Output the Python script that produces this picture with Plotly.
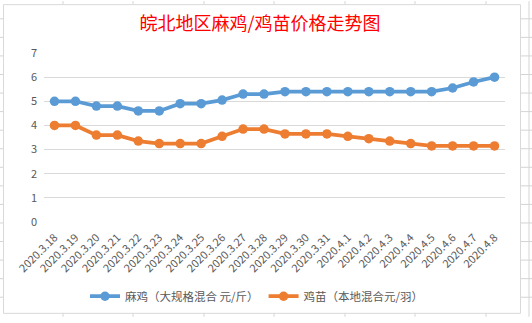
import plotly.graph_objects as go

dates = ["2020.3.18", "2020.3.19", "2020.3.20", "2020.3.21", "2020.3.22", "2020.3.23",
         "2020.3.24", "2020.3.25", "2020.3.26", "2020.3.27", "2020.3.28", "2020.3.29",
         "2020.3.30", "2020.3.31", "2020.4.1", "2020.4.2", "2020.4.3", "2020.4.4",
         "2020.4.5", "2020.4.6", "2020.4.7", "2020.4.8"]
mahji = [5.0, 5.0, 4.8, 4.8, 4.6, 4.6, 4.9, 4.9, 5.05, 5.3, 5.3, 5.4,
         5.4, 5.4, 5.4, 5.4, 5.4, 5.4, 5.4, 5.55, 5.8, 6.0]
jimiao = [4.0, 4.0, 3.6, 3.6, 3.35, 3.25, 3.25, 3.25, 3.55, 3.85, 3.85, 3.65,
          3.65, 3.65, 3.55, 3.45, 3.35, 3.25, 3.15, 3.15, 3.15, 3.15]
name_a = "麻鸡（大规格混合 元/斤）"
name_b = "鸡苗（本地混合元/羽）"
title = "皖北地区麻鸡/鸡苗价格走势图"

W, H = 532, 323
L, R, T, B = 44, 27, 53, 97
pw, ph = W - L - R, H - T - B

def px_x(x):
    return (x - L) / pw

def px_y(y):
    return (H - B - y) / ph

font = "Noto Sans CJK SC, Microsoft YaHei, sans-serif"
grey = "#595959"

fig = go.Figure()
fig.add_trace(go.Scatter(x=dates, y=mahji, name=name_a, mode="lines+markers",
                         line=dict(color="#5B9BD5", width=3.75),
                         marker=dict(size=9.5, color="#5B9BD5")))
fig.add_trace(go.Scatter(x=dates, y=jimiao, name=name_b, mode="lines+markers",
                         line=dict(color="#ED7D31", width=3.75),
                         marker=dict(size=9.5, color="#ED7D31")))

shapes = []
# Excel sheet grid lines outside the chart
for yy in [18, 37, 56, 75, 94, 113, 132, 151, 170, 189, 208, 227, 246, 265, 284, 303]:
    shapes.append(dict(type="line", xref="paper", yref="paper",
                       x0=px_x(0), x1=px_x(3), y0=px_y(yy), y1=px_y(yy),
                       line=dict(color="#d4d4d4", width=1), layer="below"))
    shapes.append(dict(type="line", xref="paper", yref="paper",
                       x0=px_x(520), x1=px_x(532), y0=px_y(yy), y1=px_y(yy),
                       line=dict(color="#d4d4d4", width=1), layer="below"))
for xx in [63, 133, 204, 274, 345, 415, 486]:
    shapes.append(dict(type="line", xref="paper", yref="paper",
                       x0=px_x(xx), x1=px_x(xx), y0=px_y(0), y1=px_y(3),
                       line=dict(color="#d4d4d4", width=1), layer="below"))
    shapes.append(dict(type="line", xref="paper", yref="paper",
                       x0=px_x(xx), x1=px_x(xx), y0=px_y(319), y1=px_y(323),
                       line=dict(color="#d4d4d4", width=1), layer="below"))
shapes.append(dict(type="line", xref="paper", yref="paper",
                   x0=px_x(529), x1=px_x(529), y0=px_y(0), y1=px_y(323),
                   line=dict(color="#d4d4d4", width=1), layer="below"))
# chart border
shapes.append(dict(type="rect", xref="paper", yref="paper",
                   x0=px_x(3.5), x1=px_x(520.5), y0=px_y(3.5), y1=px_y(319.5),
                   line=dict(color="#d9d9d9", width=1), layer="below"))

fig.update_layout(
    width=W, height=H,
    margin=dict(l=L, r=R, t=T, b=B),
    paper_bgcolor="white", plot_bgcolor="white",
    font=dict(family=font, size=11, color=grey),
    title=dict(text=title, x=px_x(260), xanchor="center", y=1 - 24 / H, yanchor="middle",
               xref="paper",
               font=dict(family=font, size=18, color="#FF0000")),
    showlegend=True,
    legend=dict(orientation="h", x=px_x(257), xanchor="center", y=px_y(302), yanchor="middle",
                font=dict(family=font, size=11.5, color=grey), bgcolor="rgba(0,0,0,0)",
                itemwidth=30),
    shapes=shapes,
    xaxis=dict(type="category", range=[-0.5, len(dates) - 0.5], tickangle=-45,
               showgrid=False, showline=False, zeroline=False, ticks="",
               ticklabelstandoff=6,
               tickfont=dict(family=font, size=11, color=grey), fixedrange=True),
    yaxis=dict(range=[0, 7], dtick=1, showgrid=True, gridcolor="#d9d9d9", gridwidth=1,
               zeroline=False, showline=False, ticks="", ticklabelstandoff=6,
               tickfont=dict(family=font, size=11, color=grey), fixedrange=True),
)

fig.write_html("out.html")
